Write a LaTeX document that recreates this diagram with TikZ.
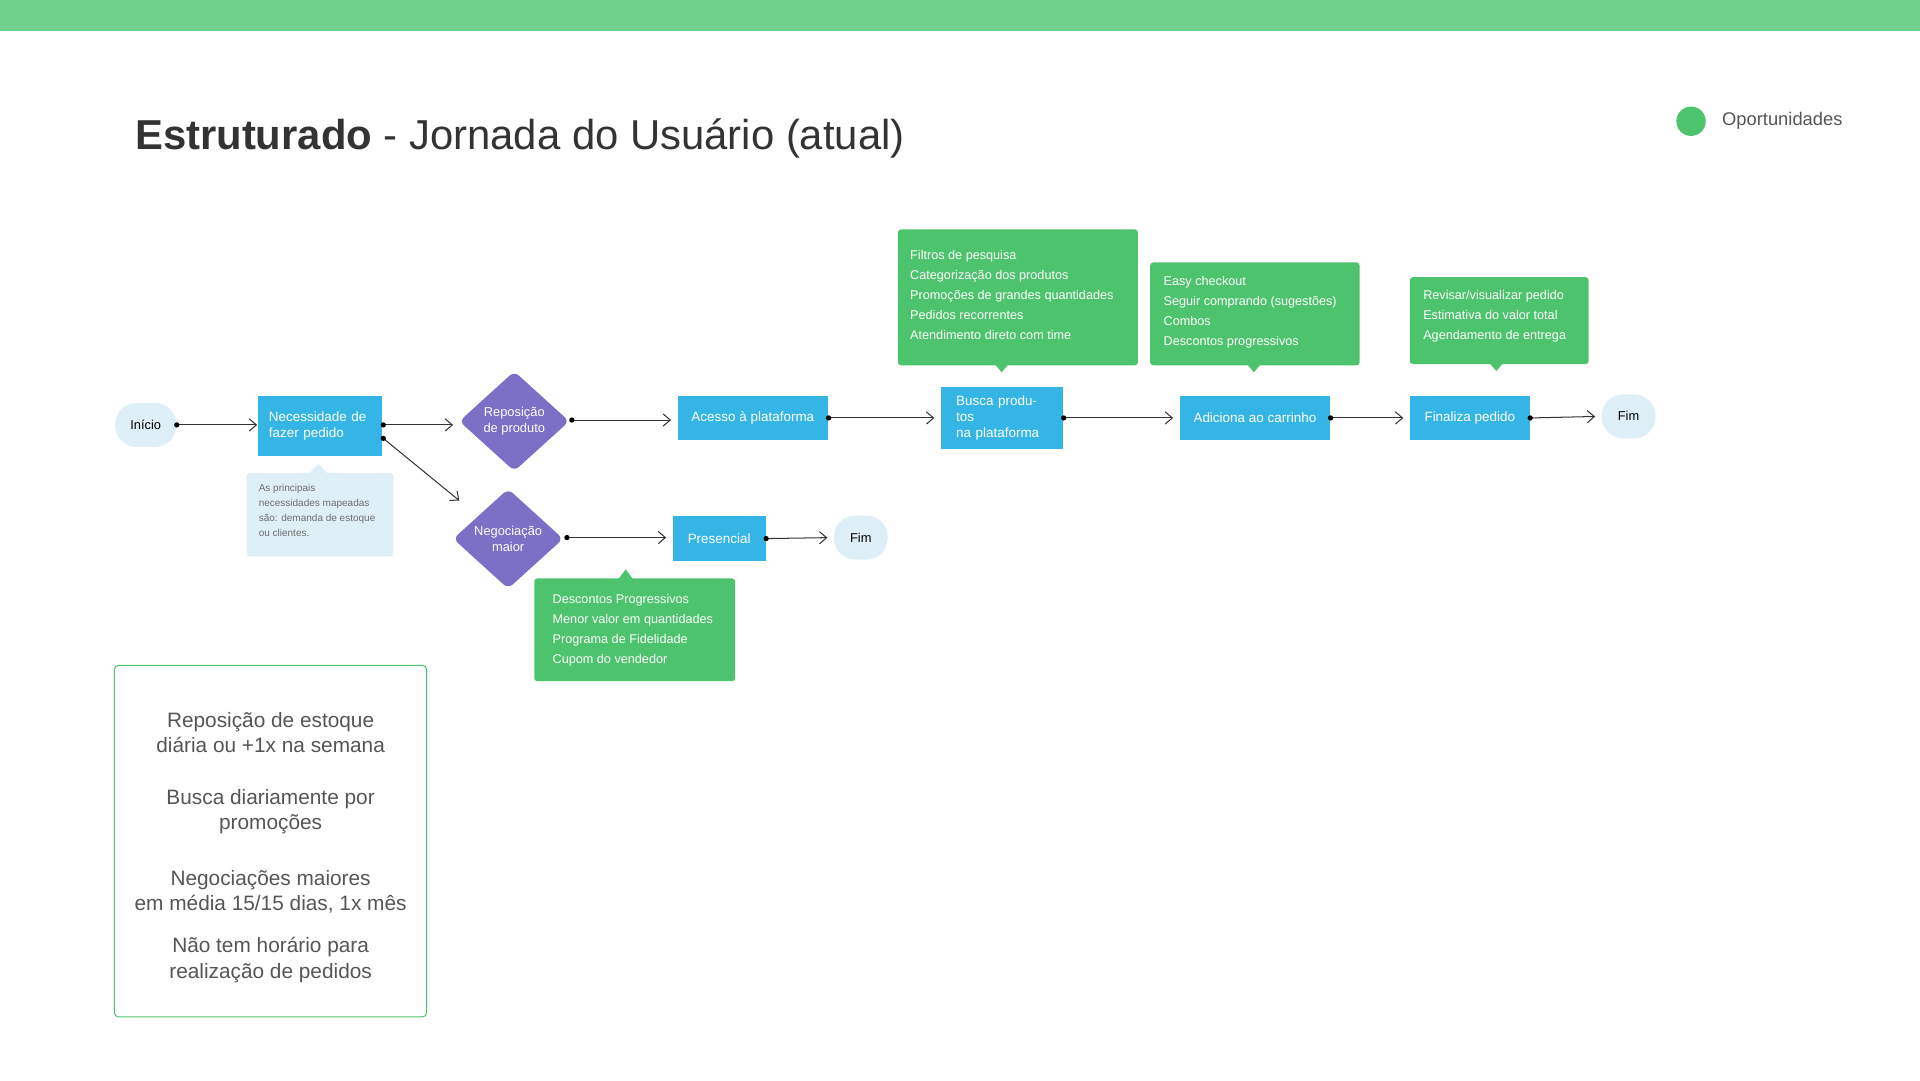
\documentclass[tikz,border=0pt]{standalone}
\usepackage{fontspec}
\setmainfont{Liberation Sans}
\usetikzlibrary{shapes.geometric,arrows.meta}
\definecolor{topbar}{HTML}{6FD18C}
\definecolor{gr}{HTML}{4CC36C}
\definecolor{bl}{HTML}{35B5E5}
\definecolor{pu}{HTML}{7B6FC6}
\definecolor{lb}{HTML}{DEEFF7}
\definecolor{tx}{HTML}{333333}
\definecolor{gt}{HTML}{555555}
\begin{document}
\begin{tikzpicture}[x=0.6pt,y=-0.6pt,
  box/.style={fill=bl,text=white,inner sep=0,font=\fontsize{6.6}{8}\selectfont,align=left,anchor=north west},
  pill/.style={fill=lb,rounded corners=10.5pt,minimum height=21.6pt,inner sep=0,font=\fontsize{6.3}{8}\selectfont,text=black},
  dia/.style={diamond,fill=pu,rounded corners=3pt,inner sep=0,minimum width=54pt,minimum height=49pt},
  dtext/.style={text=white,font=\fontsize{6.3}{7.8}\selectfont,align=center},
  call/.style={fill=gr,text=white,inner sep=0,anchor=north west,font=\fontsize{6.2}{9.8}\selectfont,align=left,rounded corners=1.5pt},
  con/.style={draw=tx,line width=0.5pt,-{Straight Barb[length=3.5pt,width=6pt]},shorten >=3pt},
  dot/.style={circle,fill=black,inner sep=0,minimum size=2.6pt}
]
\useasboundingbox (0,0) rectangle (1568,882);
\fill[topbar] (0,0) rectangle (1568,25);
\node[anchor=base west,inner sep=0,text=tx,font=\fontsize{20.5}{24}\selectfont] (title) at (110,122) {\textbf{Estruturado} - Jornada do Usuário (atual)};
\fill[gr] (1381,99) circle (12);
\node[anchor=west,inner sep=0,text=gt,font=\fontsize{9}{11}\selectfont] (leg) at (1406,99) {Oportunidades};

% nodes
\node[pill,minimum width=30pt] (ini) at (119,347) {Início};
\node[box,minimum width=61.2pt,minimum height=29.4pt,text width=50pt] (nec) at (210,323) {\hspace*{0pt}Necessidade de\\fazer pedido};
\node[box,minimum width=73.8pt,minimum height=21.6pt,align=center] (ace) at (553,323) {Acesso à plataforma};
\node[box,minimum width=60pt,minimum height=30pt,text width=45pt] (bus) at (768,316) {Busca produtos\\na plataforma};
\node[box,minimum width=73.8pt,minimum height=21.6pt,align=center] (adi) at (963,323) {Adiciona ao carrinho};
\node[box,minimum width=58.8pt,minimum height=21.6pt,align=center] (fin) at (1151,323) {Finaliza pedido};
\node[pill,minimum width=26.4pt] (fim1) at (1330,340) {Fim};
\node[box,minimum width=45.6pt,minimum height=22.2pt,align=center] (pre) at (549,421) {Presencial};
\node[pill,minimum width=26.4pt] (fim2) at (703,439) {Fim};
\node[dia,label={[dtext]center:Reposição\\de produto}] (rep) at (420,344) {};
\node[dia,label={[dtext]center:Negociação\\maior}] (neg) at (415,440) {};

% note
\node[fill=lb,inner sep=0,anchor=north west,minimum width=72pt,minimum height=40.8pt,rounded corners=1.5pt] (note) at (201,386) {};
\fill[lb] (252,387) -- (260,379) -- (268,387) -- cycle;
\node[anchor=north west,inner sep=0,text=gt!85,font=\fontsize{4.9}{7.3}\selectfont,align=left] (notet) at (211,395) {As principais\\necessidades mapeadas\\são: demanda de estoque\\ou clientes.};

% callouts
\node[call,minimum width=117.6pt,minimum height=66.6pt] (c1) at (733,187) {};
\fill[gr] (812,297) -- (818,304) -- (824,297) -- cycle;
\node[anchor=north west,inner sep=0,text=white,font=\fontsize{6.2}{9.8}\selectfont,align=left] (c1t) at (743,204) {Filtros de pesquisa\\Categorização dos produtos\\Promoções de grandes quantidades\\Pedidos recorrentes\\Atendimento direto com time};
\node[call,minimum width=102.6pt,minimum height=50.4pt] (c2) at (939,214) {};
\fill[gr] (1018,297) -- (1024,304) -- (1030,297) -- cycle;
\node[anchor=north west,inner sep=0,text=white,font=\fontsize{6.2}{9.8}\selectfont,align=left] (c2t) at (950,225) {Easy checkout\\Seguir comprando (sugestões)\\Combos\\Descontos progressivos};
\node[call,minimum width=87.6pt,minimum height=42.6pt] (c3) at (1151,226) {};
\fill[gr] (1216,296) -- (1222,303) -- (1228,296) -- cycle;
\node[anchor=north west,inner sep=0,text=white,font=\fontsize{6.2}{9.8}\selectfont,align=left] (c3t) at (1162,237) {Revisar/visualizar pedido\\Estimativa do valor total\\Agendamento de entrega};
\node[call,minimum width=98.4pt,minimum height=50.4pt] (c4) at (436,472) {};
\fill[gr] (505,473) -- (511,465) -- (517,473) -- cycle;
\node[anchor=north west,inner sep=0,text=white,font=\fontsize{6.2}{9.8}\selectfont,align=left] (c4t) at (451,485) {Descontos Progressivos\\Menor valor em quantidades\\Programa de Fidelidade\\Cupom do vendedor};

% connectors
\coordinate (n1) at (313,347);
\coordinate (n2) at (313,358);
\coordinate (r1) at (467,343);
\coordinate (g1) at (463,439);
\coordinate (repw) at (375,347);
\coordinate (negn) at (379,412);
\draw[con,shorten >=0pt] (ini.east) -- (nec.west |- ini.east);
\draw[con] (n1) -- (repw);
\draw[con] (n2) -- (negn);
\draw[con] (r1) -- (ace.west |- r1);
\draw[con] (ace.east) -- (bus.west |- ace.east);
\draw[con] (bus.east |- adi.west) -- (adi.west);
\draw[con] (adi.east) -- (fin.west);
\draw[con] (fin.east) -- (fim1.west);
\draw[con] (g1) -- (pre.west |- g1);
\draw[con] (pre.east) -- (fim2.west);
\foreach \p in {ini.east,n1,n2,r1,ace.east,adi.east,fin.east,g1,pre.east} \node[dot] at (\p) {};
\node[dot] at (bus.east |- adi.west) {};

% bottom box
\node[draw=gr,line width=0.5pt,rounded corners=2pt,anchor=north west,minimum width=153pt,minimum height=172.2pt,inner sep=0] (bb) at (93,543) {};
\begin{scope}[every node/.style={text=gt,font=\fontsize{10.2}{12.3}\selectfont,align=center,inner sep=0}]
\node (b1) at (221,598) {Reposição de estoque\\diária ou +1x na semana};
\node (b2) at (221,663) {Busca diariamente por\\promoções};
\node (b3) at (221,728) {Negociações maiores\\em média 15/15 dias, 1x mês};
\node (b4) at (221,784) {Não tem horário para\\realização de pedidos};
\end{scope}
\end{tikzpicture}
\end{document}
